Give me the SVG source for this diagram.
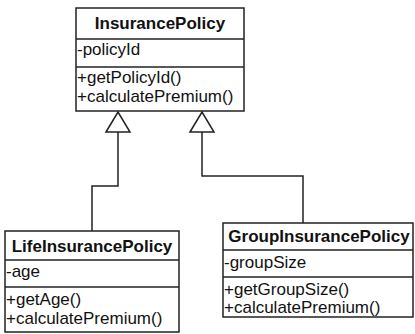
<svg xmlns="http://www.w3.org/2000/svg" width="415" height="334" viewBox="0 0 415 334">
<style>
.box{fill:#fff;stroke:#222;stroke-width:1.5}
.sep{stroke:#222;stroke-width:1.5}
.t{font-family:"Liberation Sans",Arial,sans-serif;font-size:17px;fill:#111}
.b{font-weight:bold;text-anchor:middle}
.c{fill:none;stroke:#222;stroke-width:1.5}
</style>
<defs>
<marker id="gen" viewBox="0 0 20 24" refX="20" refY="12" markerWidth="20" markerHeight="24" markerUnits="userSpaceOnUse" orient="auto" overflow="visible">
<path d="M0,0 L20,12 L0,24 Z" fill="#fff" stroke="#222" stroke-width="1.5"/>
</marker>
</defs>
<rect width="415" height="334" fill="#fff"/>
<g id="connectors">
<path class="c" d="M92,231 V186 H118 V112" marker-end="url(#gen)"/>
<path class="c" d="M303,223 V176 H202 V112" marker-end="url(#gen)"/>
</g>
<g id="InsurancePolicy">
<rect class="box" x="76" y="8" width="168" height="103"/>
<line class="sep" x1="76" y1="39" x2="244" y2="39"/>
<line class="sep" x1="76" y1="67" x2="244" y2="67"/>
<text class="t b" x="160" y="29">InsurancePolicy</text>
<text class="t" x="77" y="55">-policyId</text>
<text class="t" x="77" y="83">+getPolicyId()</text>
<text class="t" x="77" y="102">+calculatePremium()</text>
</g>
<g id="LifeInsurancePolicy">
<rect class="box" x="5" y="231" width="174" height="101"/>
<line class="sep" x1="5" y1="260" x2="179" y2="260"/>
<line class="sep" x1="5" y1="287" x2="179" y2="287"/>
<text class="t b" x="92" y="252">LifeInsurancePolicy</text>
<text class="t" x="6" y="277">-age</text>
<text class="t" x="6" y="305">+getAge()</text>
<text class="t" x="6" y="324">+calculatePremium()</text>
</g>
<g id="GroupInsurancePolicy">
<rect class="box" x="223" y="223" width="190" height="94"/>
<line class="sep" x1="223" y1="250" x2="413" y2="250"/>
<line class="sep" x1="223" y1="277" x2="413" y2="277"/>
<text class="t b" x="319" y="242">GroupInsurancePolicy</text>
<text class="t" x="224" y="268">-groupSize</text>
<text class="t" x="224" y="295">+getGroupSize()</text>
<text class="t" x="224" y="313">+calculatePremium()</text>
</g>
</svg>
